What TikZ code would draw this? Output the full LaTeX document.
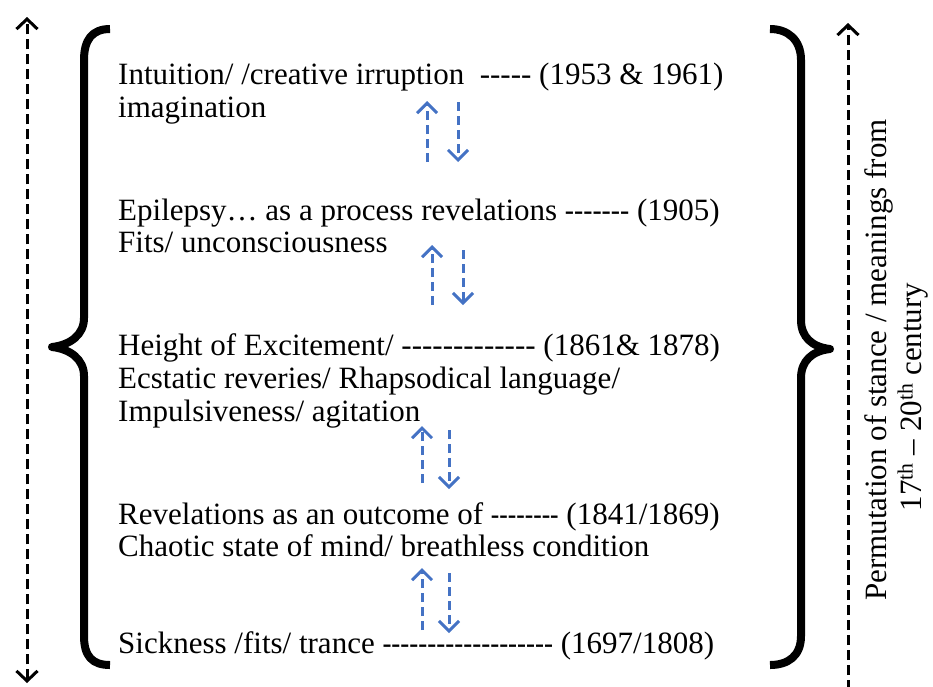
\documentclass[tikz,border=0pt]{standalone}
\usepackage{fontspec}
\usepackage{graphicx}
\setmainfont{Liberation Serif}[Ligatures=TeXOff]
\usetikzlibrary{arrows.meta}
\definecolor{arrowblue}{RGB}{68,114,196}
% a run of hyphens, narrowed horizontally by the given factor
\newcommand{\hyrun}[2]{\scalebox{#1}[1]{#2}}
\begin{document}
\begin{tikzpicture}[x=1pt,y=-1pt,
  txt/.style={anchor=base west, inner sep=0pt, font=\fontsize{31}{33}\selectfont},
  vtxt/.style={rotate=90, inner sep=0pt, font=\fontsize{31}{33}\selectfont},
  axis/.style={line width=3pt, dash pattern=on 10pt off 5pt},
  barb/.style={-{Straight Barb[length=10pt,width=21pt]}},
  flow/.style={draw=arrowblue, line width=3pt, dash pattern=on 9pt off 5pt,
    -{Straight Barb[length=10pt,width=20pt]}},
  brace/.style={line width=8pt, line cap=butt, line join=round}]
\useasboundingbox (0,0) rectangle (933,686);

% outer time axes
\coordinate (lt) at (27,17);
\coordinate (lb) at (27,683);
\draw[axis, {Straight Barb[length=10pt,width=21pt]}-{Straight Barb[length=10pt,width=21pt]}] (lb) -- (lt);
\coordinate (rt) at (848,23);
\coordinate (rb) at (848,690);
\draw[axis, barb] (rb) -- (rt);

% braces
\draw[brace] (110,29) .. controls (92,29) and (84,40) .. (84,60)
  -- (84,318) .. controls (84,335) and (70,345) .. (52,347)
  .. controls (70,349) and (84,359) .. (84,376)
  -- (84,636) .. controls (84,656) and (92,665) .. (110,665);
\draw[brace] (770,29) .. controls (788,29) and (801,40) .. (801,60)
  -- (801,320) .. controls (801,337) and (812,347) .. (830,349)
  .. controls (812,351) and (801,361) .. (801,378)
  -- (801,636) .. controls (801,656) and (788,665) .. (770,665);

% stages
\node[txt] (s1a) at (118,84) {Intuition/ /creative irruption\ \ ----- (1953 \& 1961)};
\node[txt] (s1b) at (118,117) {imagination};
\node[txt] (s2a) at (118,220) {Epilepsy… as a process revelations \hyrun{0.89}{-------} (1905)};
\node[txt] (s2b) at (118,252) {Fits/ unconsciousness};
\node[txt] (s3a) at (118,355) {Height of Excitement/ ------------- (1861\& 1878)};
\node[txt] (s3b) at (118,388) {Ecstatic reveries/ Rhapsodical language/};
\node[txt] (s3c) at (118,421) {Impulsiveness/ agitation};
\node[txt] (s4a) at (118,524) {Revelations as an outcome of \hyrun{0.82}{--------} (1841/1869)};
\node[txt] (s4b) at (118,556) {Chaotic state of mind/ breathless condition};
\node[txt] (s5a) at (118,653) {Sickness /fits/ trance \hyrun{0.87}{-------------------} (1697/1808)};

% two-way transitions between stages
\coordinate (u1b) at (427,162); \coordinate (u1t) at (427,101);
\coordinate (d1t) at (458,102); \coordinate (d1b) at (458,162);
\coordinate (u2b) at (432,305); \coordinate (u2t) at (432,245);
\coordinate (d2t) at (463,250); \coordinate (d2b) at (463,305);
\coordinate (u3b) at (422,483); \coordinate (u3t) at (422,426);
\coordinate (d3t) at (449,430); \coordinate (d3b) at (449,489);
\coordinate (u4b) at (422,630); \coordinate (u4t) at (422,568);
\coordinate (d4t) at (449,573); \coordinate (d4b) at (449,633);
\foreach \i in {1,...,4} {
  \draw[flow] (u\i b) -- (u\i t);
  \draw[flow] (d\i t) -- (d\i b);
}

% axis caption
\node[vtxt] (cap1) at (879,360) {Permutation of stance / meanings from};
\node[vtxt] (cap2) at (913,397) {17\textsuperscript{th} – 20\textsuperscript{th} century};
\end{tikzpicture}
\end{document}
